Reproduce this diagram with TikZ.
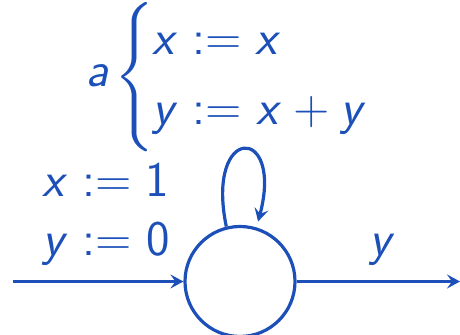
\documentclass[tikz,border=0pt]{standalone}
\usepackage{exscale}
\usetikzlibrary{arrows.meta}
\DeclareSymbolFont{sfletters}{OT1}{cmss}{m}{sl}
\SetSymbolFont{operators}{normal}{OT1}{cmss}{m}{n}
\DeclareMathSymbol{a}{\mathalpha}{sfletters}{`a}
\DeclareMathSymbol{x}{\mathalpha}{sfletters}{`x}
\DeclareMathSymbol{y}{\mathalpha}{sfletters}{`y}
\definecolor{myblue}{RGB}{28,80,184}
\begin{document}
\begin{tikzpicture}[x=0.5pt,y=-0.5pt,
  lbl/.style={anchor=base west, inner sep=0pt, text=myblue, font=\fontsize{23}{28}\selectfont},
  statebox/.style={circle, draw=myblue, line width=1.6pt, minimum size=55pt, inner sep=0pt},
  conn/.style={draw=myblue, line width=1.6pt, -{Stealth[length=6.5pt,width=7pt,inset=2.5pt]}}]
\useasboundingbox (0,0) rectangle (460,335);
\node[statebox] (s) at (240,281.5) {};
\coordinate (in) at (13,281.5);
\coordinate (out) at (460,281.5);
\draw[conn] (in) -- (s);
\draw[conn] (s) -- (out);
\draw[conn, shorten >=3pt] (s.104) .. controls (205,124) and (284,124) .. (s.73);
\node[lbl] (init1) at (42,197) {$x := 1$};
\node[lbl] (init2) at (42,256) {$y := 0$};
\node[lbl] (outl) at (369,256) {$y$};
\node[lbl] (al) at (86,87) {$a$};
\node[anchor=center, inner sep=0pt, text=myblue, font=\fontsize{23}{28}\selectfont] (br) at (136,77) {$\left\{\vrule height 31pt depth 31pt width 0pt\right.$};
\node[lbl] (up1) at (152,55) {$x := x$};
\node[lbl] (up2) at (152,125) {$y := x + y$};
\end{tikzpicture}
\end{document}
